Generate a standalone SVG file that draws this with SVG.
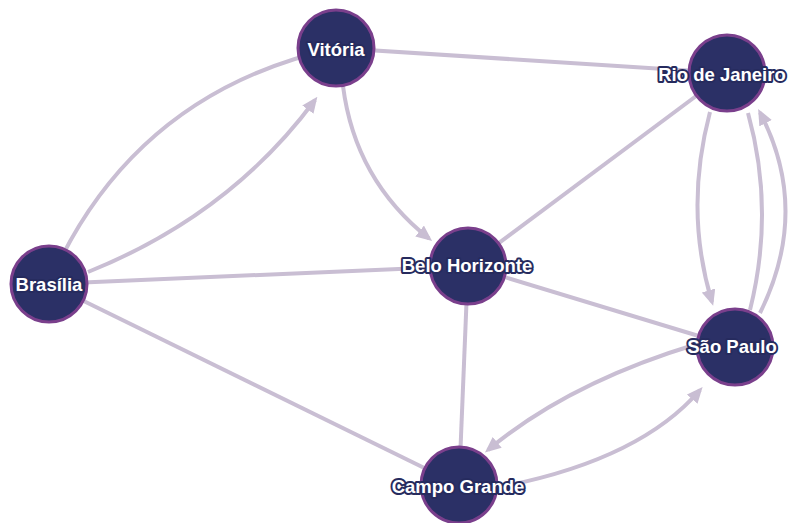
<svg xmlns="http://www.w3.org/2000/svg" width="795" height="523" viewBox="0 0 795 523">
<style>
.edge{fill:none;stroke:#c9bed3;stroke-width:4}
.arr{marker-end:url(#ah)}
.node circle{fill:#2b3066;stroke:#7a3f8c;stroke-width:3}
.node text{font-family:"Liberation Sans",Arial,sans-serif;font-weight:bold;font-size:18.5px;fill:#ffffff;stroke:#262b5e;stroke-width:4;stroke-linejoin:round;paint-order:stroke;text-anchor:middle;dominant-baseline:central}
</style>
<defs>
<marker id="ah" markerUnits="userSpaceOnUse" markerWidth="16" markerHeight="14" refX="12" refY="7" orient="auto">
<path d="M0,0 L16,7 L0,14 Z" fill="#c9bed3"/>
</marker>
</defs>
<rect width="795" height="523" fill="#ffffff"/>
<g id="connectors">
<path class="edge" d="M49,284 Q132,93 336,48"/>
<path class="edge arr" d="M88,272 Q230,215 315,100"/>
<path class="edge" d="M49,284 L468,266"/>
<path class="edge" d="M49,284 L459,485"/>
<path class="edge" d="M336,48 L727,73"/>
<path class="edge arr" d="M343,86 Q355,180 429,238.5"/>
<path class="edge" d="M727,73 L468,266"/>
<path class="edge" d="M468,266 L735,347"/>
<path class="edge" d="M468,266 L459,485"/>
<path class="edge arr" d="M710,112 Q684,210 712,302"/>
<path class="edge" d="M750,310 Q775,210 748,113"/>
<path class="edge arr" d="M760,313 Q811,210 760,112.5"/>
<path class="edge arr" d="M697,344 Q568,383 488,450"/>
<path class="edge arr" d="M500,487 Q640,460 700,390"/>
</g>
<g id="node-vitoria" class="node"><circle cx="336" cy="48" r="38"/><text x="336" y="49">Vitória</text></g>
<g id="node-rio" class="node"><circle cx="727" cy="73" r="38"/><text x="722" y="74">Rio de Janeiro</text></g>
<g id="node-bh" class="node"><circle cx="468" cy="266" r="38"/><text x="467" y="265">Belo Horizonte</text></g>
<g id="node-brasilia" class="node"><circle cx="49" cy="284" r="38"/><text x="49" y="284">Brasília</text></g>
<g id="node-sp" class="node"><circle cx="735" cy="347" r="38"/><text x="732" y="346">São Paulo</text></g>
<g id="node-cg" class="node"><circle cx="459" cy="485" r="38"/><text x="458" y="486">Campo Grande</text></g>
</svg>
